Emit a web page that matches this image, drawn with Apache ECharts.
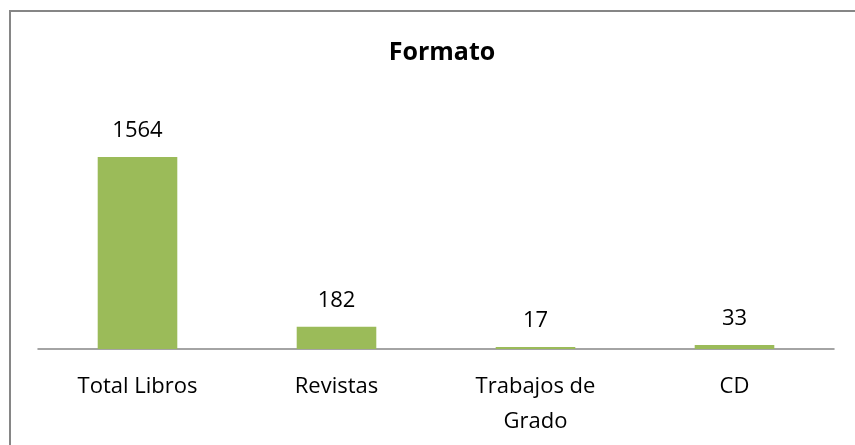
<!DOCTYPE html>
<html>
<head>
<meta charset="utf-8">
<script src="https://cdn.jsdelivr.net/npm/echarts@6/dist/echarts.min.js"></script>
<style>
html, body { margin: 0; padding: 0; background: #fff; }
#main { width: 855px; height: 445px; }
</style>
</head>
<body>
<div id="main"></div>
<script>
var categories = ['Total Libros', 'Revistas', 'Trabajos de\nGrado', 'CD'];
var values = [1564, 182, 17, 33];

var chart = echarts.init(document.getElementById('main'));

var option = {
    animation: false,
    backgroundColor: '#fff',
    textStyle: { fontFamily: 'Open Sans' },
    title: {
        text: 'Formato',
        left: 437,
        textAlign: 'center',
        top: 35,
        textStyle: { fontFamily: 'Open Sans', fontSize: 25, fontWeight: 'bold', color: '#000' }
    },
    graphic: [{
        type: 'rect',
        shape: { x: 10, y: 11, width: 900, height: 500 },
        style: { fill: 'none', stroke: '#868686', lineWidth: 2 },
        silent: true
    }],
    grid: { left: 38, right: 21, top: 128, bottom: 96 },
    xAxis: {
        type: 'category',
        data: categories,
        axisLine: { lineStyle: { color: '#868686', width: 1.5 } },
        axisTick: { show: false },
        axisLabel: { color: '#000', fontFamily: 'Open Sans', fontSize: 22, margin: 20, lineHeight: 35, interval: 0 }
    },
    yAxis: {
        type: 'value',
        min: 0,
        max: 1800,
        show: false
    },
    series: [{
        type: 'bar',
        data: values,
        barWidth: '40%',
        itemStyle: { color: '#9BBB59' },
        label: {
            show: true,
            position: 'top',
            distance: 15,
            color: '#000',
            fontFamily: 'Open Sans',
            fontSize: 22
        }
    }]
};

chart.setOption(option);
</script>
</body>
</html>
